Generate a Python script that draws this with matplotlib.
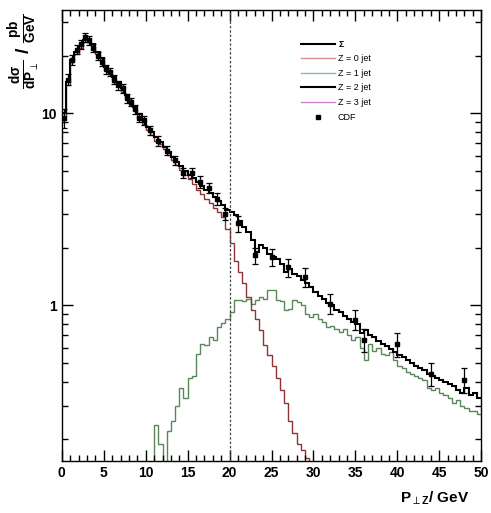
import matplotlib as mpl
mpl.use("Agg")
import matplotlib.pyplot as plt
from matplotlib.lines import Line2D
from matplotlib.ticker import FixedLocator, MultipleLocator, NullFormatter
import numpy as np

# histogram bins: 0.5 GeV wide, 0..50 GeV
BIN_WIDTH = 0.5

sum_all = [
    10.0, 14.5, 19.0, 21.0, 22.5, 24.0, 24.0, 23.0, 21.0, 19.5,
    17.5, 16.5, 15.5, 14.5, 13.5, 12.5, 11.5, 10.8, 9.9, 9.2,
    8.5, 8.0, 7.5, 7.1, 6.7, 6.3, 5.9, 5.6, 5.3, 5.0,
    4.8, 4.6, 4.4, 4.2, 4.0, 3.85, 3.65, 3.5, 3.35, 3.15,
    3.05, 2.95, 2.75, 2.55, 2.4, 2.2, 1.9, 2.05, 2.0, 1.85,
    1.78, 1.75, 1.65, 1.5, 1.55, 1.45, 1.42, 1.35, 1.30, 1.25,
    1.18, 1.12, 1.08, 1.03, 1.00, 0.95, 0.92, 0.88, 0.85, 0.82,
    0.80, 0.72, 0.74, 0.70, 0.68, 0.65, 0.63, 0.61, 0.59, 0.57,
    0.55, 0.54, 0.52, 0.50, 0.48, 0.47, 0.46, 0.44, 0.43, 0.42,
    0.41, 0.40, 0.39, 0.38, 0.36, 0.35, 0.37, 0.34, 0.35, 0.33,
]

# Z = 0 jet, bins from 0 to 30.5 GeV
z0_jet = [
    9.6, 14.0, 18.5, 20.5, 22.0, 23.5, 23.5, 22.5, 20.5, 19.0,
    17.0, 16.0, 15.0, 14.0, 13.0, 12.1, 11.1, 10.4, 9.5, 8.8,
    8.2, 7.7, 7.2, 6.9, 6.5, 6.1, 5.7, 5.4, 5.1, 4.8,
    4.55, 4.3, 4.0, 3.8, 3.6, 3.4, 3.2, 3.05, 2.9, 2.5,
    2.1, 1.7, 1.5, 1.3, 1.1, 0.95, 0.85, 0.74, 0.62, 0.55,
    0.48, 0.42, 0.36, 0.31, 0.25, 0.215, 0.19, 0.176, 0.16, 0.14,
    0.1,
]

# Z = 1 jet, bins from 10.5 to 50 GeV
z1_start = 10.5
z1_jet = [
    0.05, 0.237, 0.19, 0.1, 0.22, 0.25, 0.30, 0.37, 0.33, 0.42,
    0.43, 0.56, 0.63, 0.62, 0.68, 0.66, 0.77, 0.81, 0.85, 0.92,
    1.06, 1.07, 1.05, 1.08, 1.02, 1.06, 1.10, 1.08, 1.20, 1.20,
    1.06, 1.05, 0.94, 0.96, 1.06, 1.04, 1.00, 0.90, 0.87, 0.90,
    0.85, 0.82, 0.77, 0.78, 0.75, 0.73, 0.75, 0.70, 0.66, 0.68,
    0.60, 0.52, 0.63, 0.58, 0.60, 0.56, 0.55, 0.57, 0.52, 0.48,
    0.47, 0.45, 0.44, 0.43, 0.42, 0.41, 0.37, 0.36, 0.37, 0.35,
    0.34, 0.33, 0.31, 0.32, 0.30, 0.29, 0.28, 0.28, 0.27,
]

# Z = 2 and Z = 3 jets stay below the visible range
z2_jet = []
z3_jet = []

cdf_x = [0.25, 0.75, 1.25, 1.75, 2.25, 2.75, 3.25, 3.75, 4.25, 4.75,
         5.25, 5.75, 6.25, 6.75, 7.25, 7.75, 8.25, 8.75, 9.25, 9.75,
         10.5, 11.5, 12.5, 13.5, 14.5, 15.5, 16.5, 17.5, 18.5, 19.5,
         21, 23, 25, 27, 29, 32, 35, 36, 40, 44, 48]
cdf_y = [9.5, 15.0, 19.0, 21.5, 23.0, 25.0, 24.0, 22.0, 20.0, 18.5,
         17.0, 16.5, 15.0, 14.0, 13.5, 12.0, 11.5, 10.5, 9.5, 9.2,
         8.2, 7.2, 6.4, 5.7, 4.9, 4.9, 4.4, 4.1, 3.6, 3.0,
         2.67, 1.82, 1.78, 1.58, 1.40, 1.02, 0.84, 0.66, 0.63, 0.44, 0.41]
cdf_err = [1.1, 1.0, 1.1, 1.2, 1.2, 1.3, 1.2, 1.1, 1.0, 0.9,
           0.9, 0.8, 0.8, 0.7, 0.7, 0.6, 0.6, 0.6, 0.5, 0.5,
           0.45, 0.4, 0.35, 0.3, 0.3, 0.3, 0.3, 0.25, 0.25, 0.2,
           0.25, 0.18, 0.18, 0.17, 0.16, 0.12, 0.1, 0.09, 0.09, 0.06, 0.06]

plt.rcParams["font.family"] = ["Liberation Sans", "DejaVu Sans"]
plt.rcParams["mathtext.fontset"] = "custom"
plt.rcParams["mathtext.rm"] = "Liberation Sans:bold"
plt.rcParams["mathtext.it"] = "Liberation Sans:bold"

fig = plt.figure(figsize=(4.91, 5.13), dpi=100)
ax = fig.add_axes([0.126, 0.101, 0.854, 0.879])

edges_all = np.arange(len(sum_all) + 1) * BIN_WIDTH
edges_z0 = np.arange(len(z0_jet) + 1) * BIN_WIDTH
edges_z1 = z1_start + np.arange(len(z1_jet) + 1) * BIN_WIDTH

c_z0 = "#8e3434"
c_z1 = "#5a865a"
ax.stairs(z1_jet, edges_z1, baseline=None, color=c_z1, lw=1.0)
ax.stairs(z0_jet, edges_z0, baseline=None, color=c_z0, lw=1.0)
ax.stairs(sum_all, edges_all, baseline=None, color="black", lw=1.5)
ax.errorbar(cdf_x, cdf_y, yerr=cdf_err, fmt="s", color="black", ms=3,
            elinewidth=0.9, capsize=2, capthick=0.9)

ax.axvline(20, color="#444444", lw=0.9, ls=(0, (2, 1.5)))

ax.set_xlim(0, 50)
ax.set_ylim(0.154, 34.5)
ax.set_yscale("log")

ax.xaxis.set_major_locator(MultipleLocator(5))
ax.xaxis.set_minor_locator(MultipleLocator(1))
ax.yaxis.set_major_locator(FixedLocator([1, 10]))
ax.yaxis.set_minor_locator(FixedLocator(
    [v * 10.0 ** d for d in (-1, 0, 1) for v in range(2, 10)]))
ax.yaxis.set_minor_formatter(NullFormatter())
ax.set_yticklabels(["1", "10"])
ax.tick_params(which="both", direction="in", top=True, right=True,
               labelsize=10, width=1.0)
ax.tick_params(which="major", length=8)
ax.tick_params(which="minor", length=4)
for lab in ax.get_xticklabels() + ax.get_yticklabels():
    lab.set_fontweight("bold")
for s in ax.spines.values():
    s.set_linewidth(1.0)

fig.text(0.048, 0.975, r"$\frac{d\sigma}{dP_{\perp}}$ / $\frac{pb}{GeV}$",
         rotation=90, ha="center", va="top", fontsize=14, fontweight="bold")
fig.text(0.955, 0.028, r"$P_{\perp Z}$/ GeV", ha="right", va="center",
         fontsize=11, fontweight="bold")

handles = [
    Line2D([], [], color="black", lw=1.5),
    Line2D([], [], color="#d98c8c", lw=1.0),
    Line2D([], [], color="#8fbf8f", lw=1.0),
    Line2D([], [], color="black", lw=1.5),
    Line2D([], [], color="#d080d0", lw=1.0),
    Line2D([], [], color="black", marker="s", ls="none", ms=3),
]
labels = [r"$\Sigma$", "Z = 0 jet", "Z = 1 jet", "Z = 2 jet", "Z = 3 jet", "CDF"]
ax.legend(handles, labels, loc="upper left", bbox_to_anchor=(0.55, 0.955),
          frameon=False, fontsize=6.5, handlelength=3.8, labelspacing=0.62,
          handletextpad=0.3)

fig.savefig("out.png", dpi=100)
